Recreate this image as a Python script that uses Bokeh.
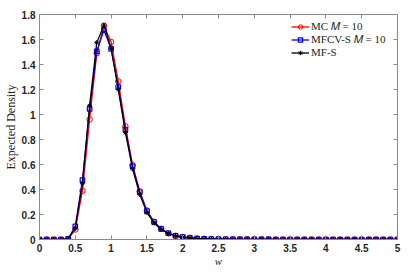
from bokeh.plotting import figure
from bokeh.models import (Legend, LegendItem, LinearAxis, FixedTicker, ColumnDataSource,
                          CustomLabelingPolicy)
from bokeh.embed import file_html
from bokeh.resources import INLINE

# sampling grid
w = [0.0, 0.1, 0.2, 0.3, 0.4, 0.5, 0.6, 0.7, 0.8, 0.9,
     1.0, 1.1, 1.2, 1.3, 1.4, 1.5, 1.6, 1.7, 1.8, 1.9,
     2.0, 2.1, 2.2, 2.3, 2.4, 2.5, 2.6, 2.7, 2.8, 2.9,
     3.0, 3.1, 3.2, 3.3, 3.4, 3.5, 3.6, 3.7, 3.8, 3.9,
     4.0, 4.1, 4.2, 4.3, 4.4, 4.5, 4.6, 4.7, 4.8, 4.9, 5.0]

mc = [0, 0, 0, 0, 0.005, 0.08, 0.39, 0.96, 1.49, 1.71,
      1.58, 1.265, 0.905, 0.595, 0.385, 0.232, 0.142, 0.086, 0.05, 0.03,
      0.02, 0.013, 0.008, 0.005, 0.004, 0.003, 0.002, 0.002, 0.001, 0.001,
      0.001, 0.001, 0.001, 0, 0, 0, 0, 0, 0, 0,
      0, 0, 0, 0, 0, 0, 0, 0, 0, 0, 0]

mfcv = [0, 0, 0, 0, 0.005, 0.105, 0.475, 1.045, 1.505, 1.675,
        1.525, 1.22, 0.88, 0.585, 0.38, 0.227, 0.14, 0.085, 0.05, 0.03,
        0.02, 0.013, 0.008, 0.005, 0.004, 0.003, 0.002, 0.002, 0.001, 0.001,
        0.001, 0.001, 0.001, 0, 0, 0, 0, 0, 0, 0,
        0, 0, 0, 0, 0, 0, 0, 0, 0, 0, 0]

mfs = [0, 0, 0, 0, 0.005, 0.09, 0.45, 1.07, 1.575, 1.715,
       1.53, 1.20, 0.855, 0.565, 0.36, 0.215, 0.132, 0.08, 0.047, 0.028,
       0.018, 0.012, 0.007, 0.005, 0.003, 0.002, 0.002, 0.001, 0.001, 0.001,
       0.001, 0, 0, 0, 0, 0, 0, 0, 0, 0,
       0, 0, 0, 0, 0, 0, 0, 0, 0, 0, 0]

x_ticks = [0, 0.5, 1, 1.5, 2, 2.5, 3, 3.5, 4, 4.5, 5]
x_tick_labels = ["0", "0.5", "1", "1.5", "2", "2.5", "3", "3.5", "4", "4.5", "5"]
y_ticks = [0, 0.2, 0.4, 0.6, 0.8, 1, 1.2, 1.4, 1.6, 1.8]
y_tick_labels = ["0", "0.2", "0.4", "0.6", "0.8", "1", "1.2", "1.4", "1.6", "1.8"]

legend_labels = ["MC \U0001D440 = 10", "MFCV-S \U0001D440 = 10", "MF-S"]

src = ColumnDataSource(dict(w=w, mc=mc, mfcv=mfcv, mfs=mfs))

p = figure(frame_width=358, frame_height=225, x_range=(0, 5), y_range=(0, 1.8),
           output_backend="svg", toolbar_location=None,
           min_border_left=37, min_border_right=7, min_border_top=14, min_border_bottom=26)

axis_col = "#8a8a8a"
lab_col = "#262626"

p.xgrid.visible = False
p.ygrid.visible = False
p.outline_line_color = axis_col
p.outline_line_width = 1

for ax, ticks, labels in ((p.xaxis[0], x_ticks, x_tick_labels), (p.yaxis[0], y_ticks, y_tick_labels)):
    ax.ticker = FixedTicker(ticks=ticks)
    ax.major_label_overrides = {t: l for t, l in zip(ticks, labels)}
    ax.major_tick_in = 4
    ax.major_tick_out = 0
    ax.minor_tick_line_color = None
    ax.axis_line_color = axis_col
    ax.major_tick_line_color = axis_col
    ax.major_label_text_font = "Liberation Sans"
    ax.major_label_text_font_style = "bold"
    ax.major_label_text_font_size = "10px"
    ax.major_label_text_color = lab_col
    ax.axis_label_text_font = "Liberation Serif"
    ax.axis_label_text_font_size = "12px"
    ax.axis_label_text_color = lab_col

p.xaxis[0].axis_label = "w"
p.xaxis[0].axis_label_text_font_style = "italic"
p.xaxis[0].axis_label_text_font_size = "11px"
p.xaxis[0].axis_label_standoff = 0
p.xaxis[0].major_label_standoff = 4
p.yaxis[0].axis_label = "Expected Density"
p.yaxis[0].axis_label_text_font_style = "normal"
p.yaxis[0].axis_label_standoff = 1
p.yaxis[0].major_label_standoff = 4

hide_all = CustomLabelingPolicy(code="for (const i of [...indices]) { indices.unset(i) }\nreturn indices")

for loc, ticks in (("above", x_ticks), ("right", y_ticks)):
    ax = LinearAxis(ticker=FixedTicker(ticks=ticks))
    ax.major_tick_in = 4
    ax.major_tick_out = 0
    ax.minor_tick_line_color = None
    ax.axis_line_color = axis_col
    ax.major_tick_line_color = axis_col
    ax.major_label_policy = hide_all
    ax.major_label_text_font_size = "1px"
    ax.major_label_standoff = 0
    p.add_layout(ax, loc)

r1l = p.line("w", "mc", source=src, line_color="red", line_width=1.3)
r1m = p.scatter("w", "mc", source=src, marker="circle", size=5.5,
                line_color="red", fill_color=None, line_width=1)
r2l = p.line("w", "mfcv", source=src, line_color="blue", line_width=1.3)
r2m = p.scatter("w", "mfcv", source=src, marker="square", size=4.5,
                line_color="blue", fill_color=None, line_width=1.2)
r3l = p.line("w", "mfs", source=src, line_color="black", line_width=1.3)
r3m = p.scatter("w", "mfs", source=src, marker="asterisk", size=5,
                line_color="black", line_width=1)

legend = Legend(items=[
    LegendItem(label=legend_labels[0], renderers=[r1l, r1m]),
    LegendItem(label=legend_labels[1], renderers=[r2l, r2m]),
    LegendItem(label=legend_labels[2], renderers=[r3l, r3m]),
], location=(252, 181))
legend.border_line_color = None
legend.background_fill_alpha = 0
legend.label_text_font = "Liberation Serif"
legend.label_text_font_size = "11px"
legend.label_text_color = lab_col
legend.glyph_width = 18
legend.glyph_height = 11
legend.label_height = 11
legend.label_standoff = 2
legend.spacing = -2
legend.padding = 4
legend.margin = 0
p.add_layout(legend)

open("out.html", "w").write(file_html(p, INLINE))
